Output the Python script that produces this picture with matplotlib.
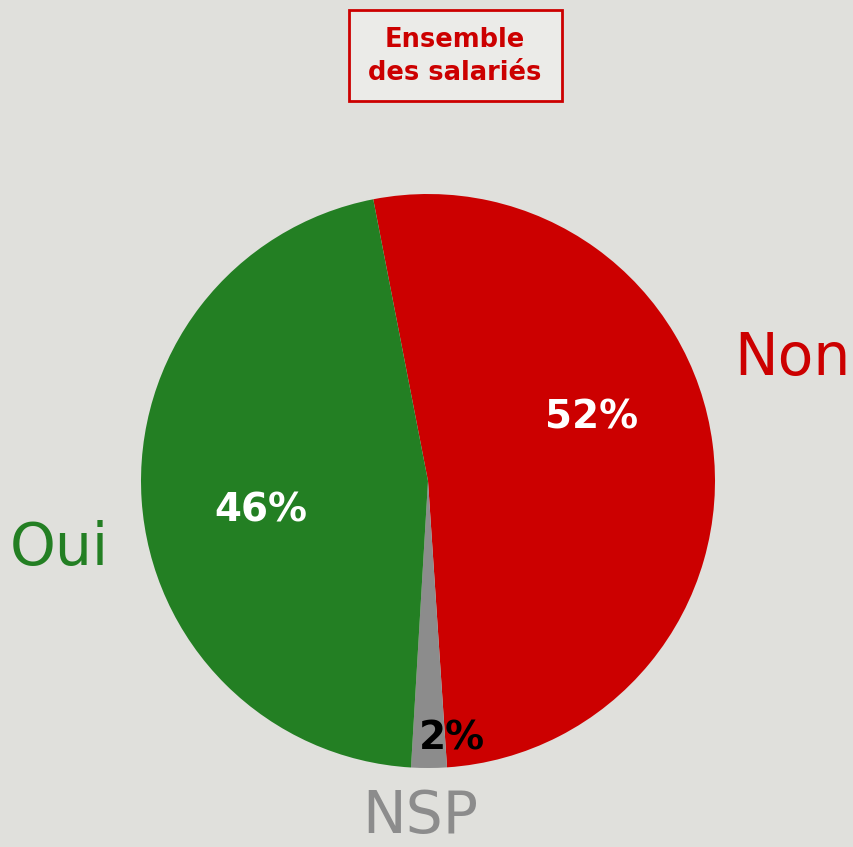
import matplotlib.pyplot as plt
from matplotlib.patches import Rectangle

# data
labels = ['Non', 'NSP', 'Oui']
values = [52, 2, 46]
pct_labels = ['52%', '2%', '46%']
colors = ['#cc0000', '#8c8c8c', '#237f23']
title = 'Ensemble\ndes salariés'

bg = '#e0e0dc'
W, H = 854, 847

fig = plt.figure(figsize=(W / 100, H / 100), dpi=100, facecolor=bg)
ax = fig.add_axes([0, 0, 1, 1])

cx, cy, r = 428, H - 481, 287
wedges, _ = ax.pie(values, colors=colors, startangle=101, counterclock=False,
                   center=(cx, cy), radius=r, frame=True,
                   wedgeprops=dict(linewidth=0))
ax.set_xlim(0, W)
ax.set_ylim(0, H)
ax.set_aspect('equal')
ax.axis('off')

# percentage labels inside slices
ax.text(592, H - 417, pct_labels[0], color='white', fontsize=28, fontweight='bold',
        ha='center', va='center')
ax.text(452, H - 738, pct_labels[1], color='black', fontsize=28, fontweight='bold',
        ha='center', va='center')
ax.text(261, H - 511, pct_labels[2], color='white', fontsize=28, fontweight='bold',
        ha='center', va='center')

# category labels outside
ax.text(792, H - 358, labels[0], color=colors[0], fontsize=42, ha='center', va='center')
ax.text(420, H - 816, labels[1], color=colors[1], fontsize=42, ha='center', va='center')
ax.text(59, H - 549, labels[2], color=colors[2], fontsize=42, ha='center', va='center')

# title box
ax.add_patch(Rectangle((349, H - 101), 213, 91, facecolor='#ebebe8',
                       edgecolor='#cc0000', linewidth=2))
ax.text(455, H - 56, title, color='#cc0000', fontsize=18.5, fontweight='bold',
        ha='center', va='center', linespacing=1.35)

fig.savefig('out.png', dpi=100, facecolor=bg)
